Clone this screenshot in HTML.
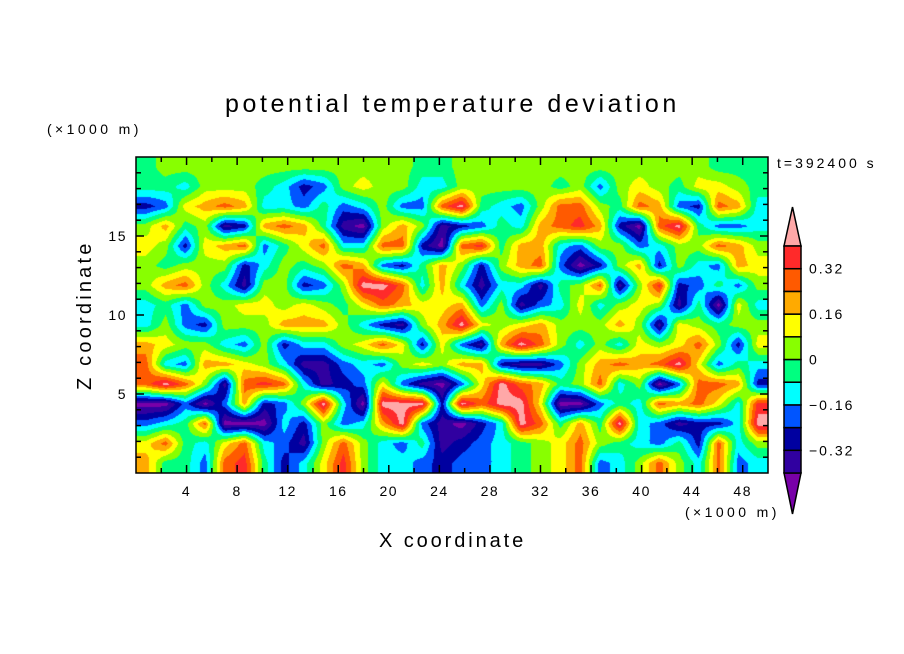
<!DOCTYPE html>
<html><head><meta charset="utf-8"><style>
body{margin:0;background:#fff;width:904px;height:654px;overflow:hidden;font-family:"Liberation Sans",sans-serif}
#wrap{position:relative;width:904px;height:654px}
canvas{position:absolute;left:136px;top:157px}
svg{position:absolute;left:0;top:0}
</style></head><body><div id="wrap">
<canvas id="cv" width="632" height="316"></canvas>
<svg id="sv" width="904" height="654">
<text x="225" y="112" font-size="25" letter-spacing="3.6">potential temperature deviation</text>
<text x="47" y="134" font-size="14" letter-spacing="3.4">(×1000 m)</text>
<text x="685" y="517" font-size="14" letter-spacing="3.4">(×1000 m)</text>
<text x="379" y="547" font-size="20" letter-spacing="2.9">X coordinate</text>
<text x="0" y="0" transform="translate(91,390) rotate(-90)" font-size="20" letter-spacing="3.2">Z coordinate</text>
<text x="777" y="168" font-size="14" letter-spacing="3">t=392400 s</text>
<g id="ticks"></g>
<g id="cbar"></g>
</svg></div>
<script>
const gridRows=[
"56666666666666556666666666666555",
"55466654236766446666656367657765",
"2378984435346339b543699659832984",
"6856128985106861235489a8209b5334",
"76278935794499209a58843663466986",
"65666246569832586268930268264387",
"68964166236bb9484144156916a23536",
"45366776765798778361347467615074",
"4632666888642168b767866686176566",
"8766436244679727318b964647679627",
"943887641134367688211368989b7354",
"9b9619a94123731037b9856946039982",
"003038236b40bbb2b9bb70035498974a",
"3459000426348b31024b9585b431224b",
"79547943169643512345679654352946",
"85539a5247a644323345679346964934"];
const levelBounds=[-0.4,-0.32,-0.24,-0.16,-0.08,0,0.08,0.16,0.24,0.32,0.4];
const cbarLabels=["0.32","0.16","0","\u22120.16","\u22120.32"];
const cbarLabelValues=[0.32,0.16,0,-0.16,-0.32];
const xTicks=[4,8,12,16,20,24,28,32,36,40,44,48];
const yTicks=[5,10,15];
const colors=["#7800a8","#3000a0","#0000a0","#0055ff","#00ffff","#00ff80","#88ff00","#ffff00","#ffaa00","#ff5a00","#ff2a2a","#ffa8a8"];
const X0=136,X1=768,Y0=473,Y1=157,XMAX=50,ZMAX=20;
const xs=v=>X0+(v/XMAX)*(X1-X0), ys=v=>Y0-(v/ZMAX)*(Y0-Y1);
const vals=gridRows.map(r=>[...r].map(c=>(parseInt(c,16)-5.5)*0.08));
const R=vals.length,C=vals[0].length;
function lvl(v){let i=0;while(i<levelBounds.length&&v>=levelBounds[i])i++;return i;}
const rgb=colors.map(h=>[parseInt(h.slice(1,3),16),parseInt(h.slice(3,5),16),parseInt(h.slice(5,7),16)]);
const cv=document.getElementById('cv'),ctx=cv.getContext('2d'),W=cv.width,H=cv.height;
const img=ctx.createImageData(W,H);
for(let py=0;py<H;py++){let gy=(py+0.5)/H*R-0.5;gy=Math.max(0,Math.min(R-1,gy));const y0=Math.floor(gy),y1=Math.min(R-1,y0+1),fy=gy-y0;
for(let px=0;px<W;px++){let gx=(px+0.5)/W*C-0.5;gx=Math.max(0,Math.min(C-1,gx));const x0=Math.floor(gx),x1=Math.min(C-1,x0+1),fx=gx-x0;
const v=(vals[y0][x0]*(1-fx)+vals[y0][x1]*fx)*(1-fy)+(vals[y1][x0]*(1-fx)+vals[y1][x1]*fx)*fy;
const c=rgb[lvl(v)],k=(py*W+px)*4;img.data[k]=c[0];img.data[k+1]=c[1];img.data[k+2]=c[2];img.data[k+3]=255;}}
ctx.putImageData(img,0,0);
const NS="http://www.w3.org/2000/svg";
function mk(t,a,p){const e=document.createElementNS(NS,t);for(const k in a)e.setAttribute(k,a[k]);p.appendChild(e);return e;}
const tg=document.getElementById('ticks');
const fr=mk('rect',{x:X0,y:Y1,width:X1-X0,height:Y0-Y1,fill:'none',stroke:'#000','stroke-width':1.5},tg);


for(let v=2;v<XMAX;v+=2){const x=xs(v),L=v%4===0?8:5;
mk('line',{x1:x,x2:x,y1:Y0,y2:Y0-L,stroke:'#000','stroke-width':1.5},tg);mk('line',{x1:x,x2:x,y1:Y1,y2:Y1+L,stroke:'#000','stroke-width':1.5},tg);}
for(let v=1;v<ZMAX;v++){const y=ys(v),L=v%5===0?8:5;
mk('line',{x1:X0,x2:X0+L,y1:y,y2:y,stroke:'#000','stroke-width':1.5},tg);mk('line',{x1:X1,x2:X1-L,y1:y,y2:y,stroke:'#000','stroke-width':1.5},tg);}
xTicks.forEach(v=>{const t=mk('text',{x:xs(v),y:496,'text-anchor':'middle','font-size':14,'letter-spacing':1.5},tg);t.textContent=v;

});
yTicks.forEach(v=>{const t=mk('text',{x:127,y:ys(v)+5,'text-anchor':'end','font-size':14,'letter-spacing':1.5},tg);t.textContent=v;

});
const cb=document.getElementById('cbar');
const CB0=784,CB1=801,CBT=246,CBB=473,bh=(CBB-CBT)/10;
const cbv=v=>CBB-(v-levelBounds[0])/(levelBounds[10]-levelBounds[0])*(CBB-CBT);
const tri1=mk('polygon',{points:`${CB0},${CBT} ${CB1},${CBT} ${(CB0+CB1)/2},207`,fill:colors[11],stroke:'#000','stroke-width':1.5},cb);


const tri2=mk('polygon',{points:`${CB0},${CBB} ${CB1},${CBB} ${(CB0+CB1)/2},514`,fill:colors[0],stroke:'#000','stroke-width':1.5},cb);


for(let i=0;i<10;i++){const r=mk('rect',{x:CB0,y:cbv(levelBounds[i+1]),width:CB1-CB0,height:bh,fill:colors[i+1],stroke:'#000','stroke-width':1.5},cb);

}
cbarLabels.forEach((s,i)=>{const t=mk('text',{x:809,y:cbv(cbarLabelValues[i])+5,'font-size':14,'letter-spacing':2},cb);t.textContent=s;

});
</script></body></html>
